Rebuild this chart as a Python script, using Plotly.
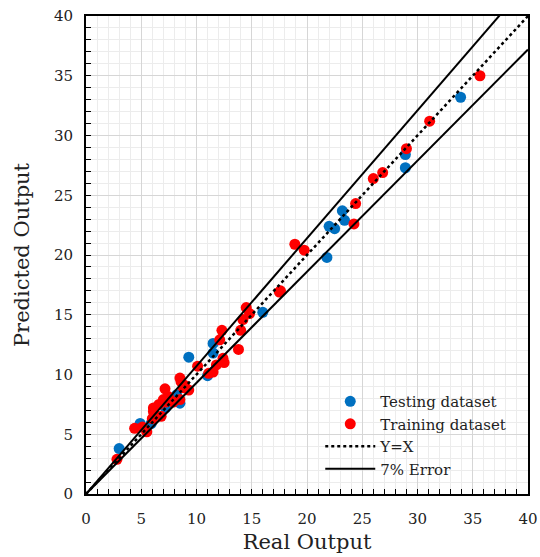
import plotly.graph_objects as go
import numpy as np

# Testing dataset (real, predicted)
test_real = [3.0, 4.9, 5.9, 7.2, 8.2, 8.5, 9.3, 11.0, 11.5, 11.5, 16.0,
             21.8, 22.0, 22.5, 23.2, 23.4, 28.9, 28.9, 33.9]
test_pred = [3.8, 5.9, 5.9, 7.2, 8.3, 7.6, 11.45, 9.9, 11.8, 12.6, 15.2,
             19.8, 22.4, 22.2, 23.7, 22.9, 27.3, 28.4, 33.2]

# Training dataset (real, predicted)
train_real = [2.8, 4.4, 5.1, 5.5, 6.0, 6.1, 6.8, 6.1, 6.6, 7.0, 7.2, 7.9, 8.5,
              7.15, 7.45, 8.6, 8.8, 9.3, 8.5, 8.9, 10.1, 11.1, 11.5, 11.8, 12.4,
              12.5, 12.1, 12.3, 13.8, 14.0, 14.2, 14.5, 14.8, 17.6, 17.5, 18.9,
              19.75, 24.25, 24.4, 26.0, 26.85, 29.0, 31.1, 35.65]
train_pred = [2.9, 5.5, 5.6, 5.2, 6.3, 6.9, 6.5, 7.2, 7.5, 7.9, 7.7, 7.7, 7.9,
              8.8, 8.15, 9.4, 8.9, 8.7, 9.7, 9.1, 10.7, 10.1, 10.2, 10.8, 11.35,
              11.0, 12.9, 13.7, 12.1, 13.7, 14.6, 15.6, 15.1, 17.0, 16.9, 20.9,
              20.4, 22.6, 24.3, 26.4, 26.9, 28.9, 31.2, 35.0]

line_x = np.array([0, 40])
error = 0.07

FONT = "DejaVu Serif"
TXT = "#222222"

fig = go.Figure()
fig.add_trace(go.Scatter(x=test_real, y=test_pred, mode="markers", name="Testing dataset",
                         marker=dict(color="#0070C0", size=11)))
fig.add_trace(go.Scatter(x=train_real, y=train_pred, mode="markers", name="Training dataset",
                         marker=dict(color="#FF0000", size=11)))
fig.add_trace(go.Scatter(x=line_x, y=line_x, mode="lines", name="Y=X",
                         line=dict(color="black", width=2.5, dash="dot")))
fig.add_trace(go.Scatter(x=line_x, y=(1 + error) * line_x, mode="lines", name="7% Error",
                         line=dict(color="black", width=2), legendgroup="err"))
fig.add_trace(go.Scatter(x=line_x, y=(1 - error) * line_x, mode="lines", name="7% Error",
                         line=dict(color="black", width=2), legendgroup="err", showlegend=False))

axis_common = dict(
    range=[0, 40], dtick=5, tick0=0, automargin=False,
    showgrid=True, gridcolor="#d6d6d6", gridwidth=1,
    minor=dict(dtick=1, showgrid=True, gridcolor="#ececec", gridwidth=1,
               ticks="inside", ticklen=5, tickcolor="black", tickwidth=1),
    ticks="inside", ticklen=5, tickcolor="black", tickwidth=1,
    showline=True, linecolor="black", linewidth=2, mirror=True,
    zeroline=False,
    tickfont=dict(family=FONT, size=15, color=TXT),
)

fig.update_layout(
    width=540, height=557,
    margin=dict(l=86, r=12, t=16, b=63),
    paper_bgcolor="white", plot_bgcolor="white",
    xaxis=dict(**axis_common, ticklabelstandoff=10,
               title=dict(text="Real Output", font=dict(family=FONT, size=21, color=TXT), standoff=7)),
    yaxis=dict(**axis_common, ticklabelstandoff=8,
               title=dict(text="Predicted Output", font=dict(family=FONT, size=21, color=TXT), standoff=19)),
    legend=dict(x=0.53, y=0.228, xanchor="left", yanchor="top",
                bgcolor="rgba(0,0,0,0)", font=dict(family=FONT, size=15, color=TXT),
                itemwidth=50, tracegroupgap=0),
    showlegend=True,
)

fig.write_html("out.html")
